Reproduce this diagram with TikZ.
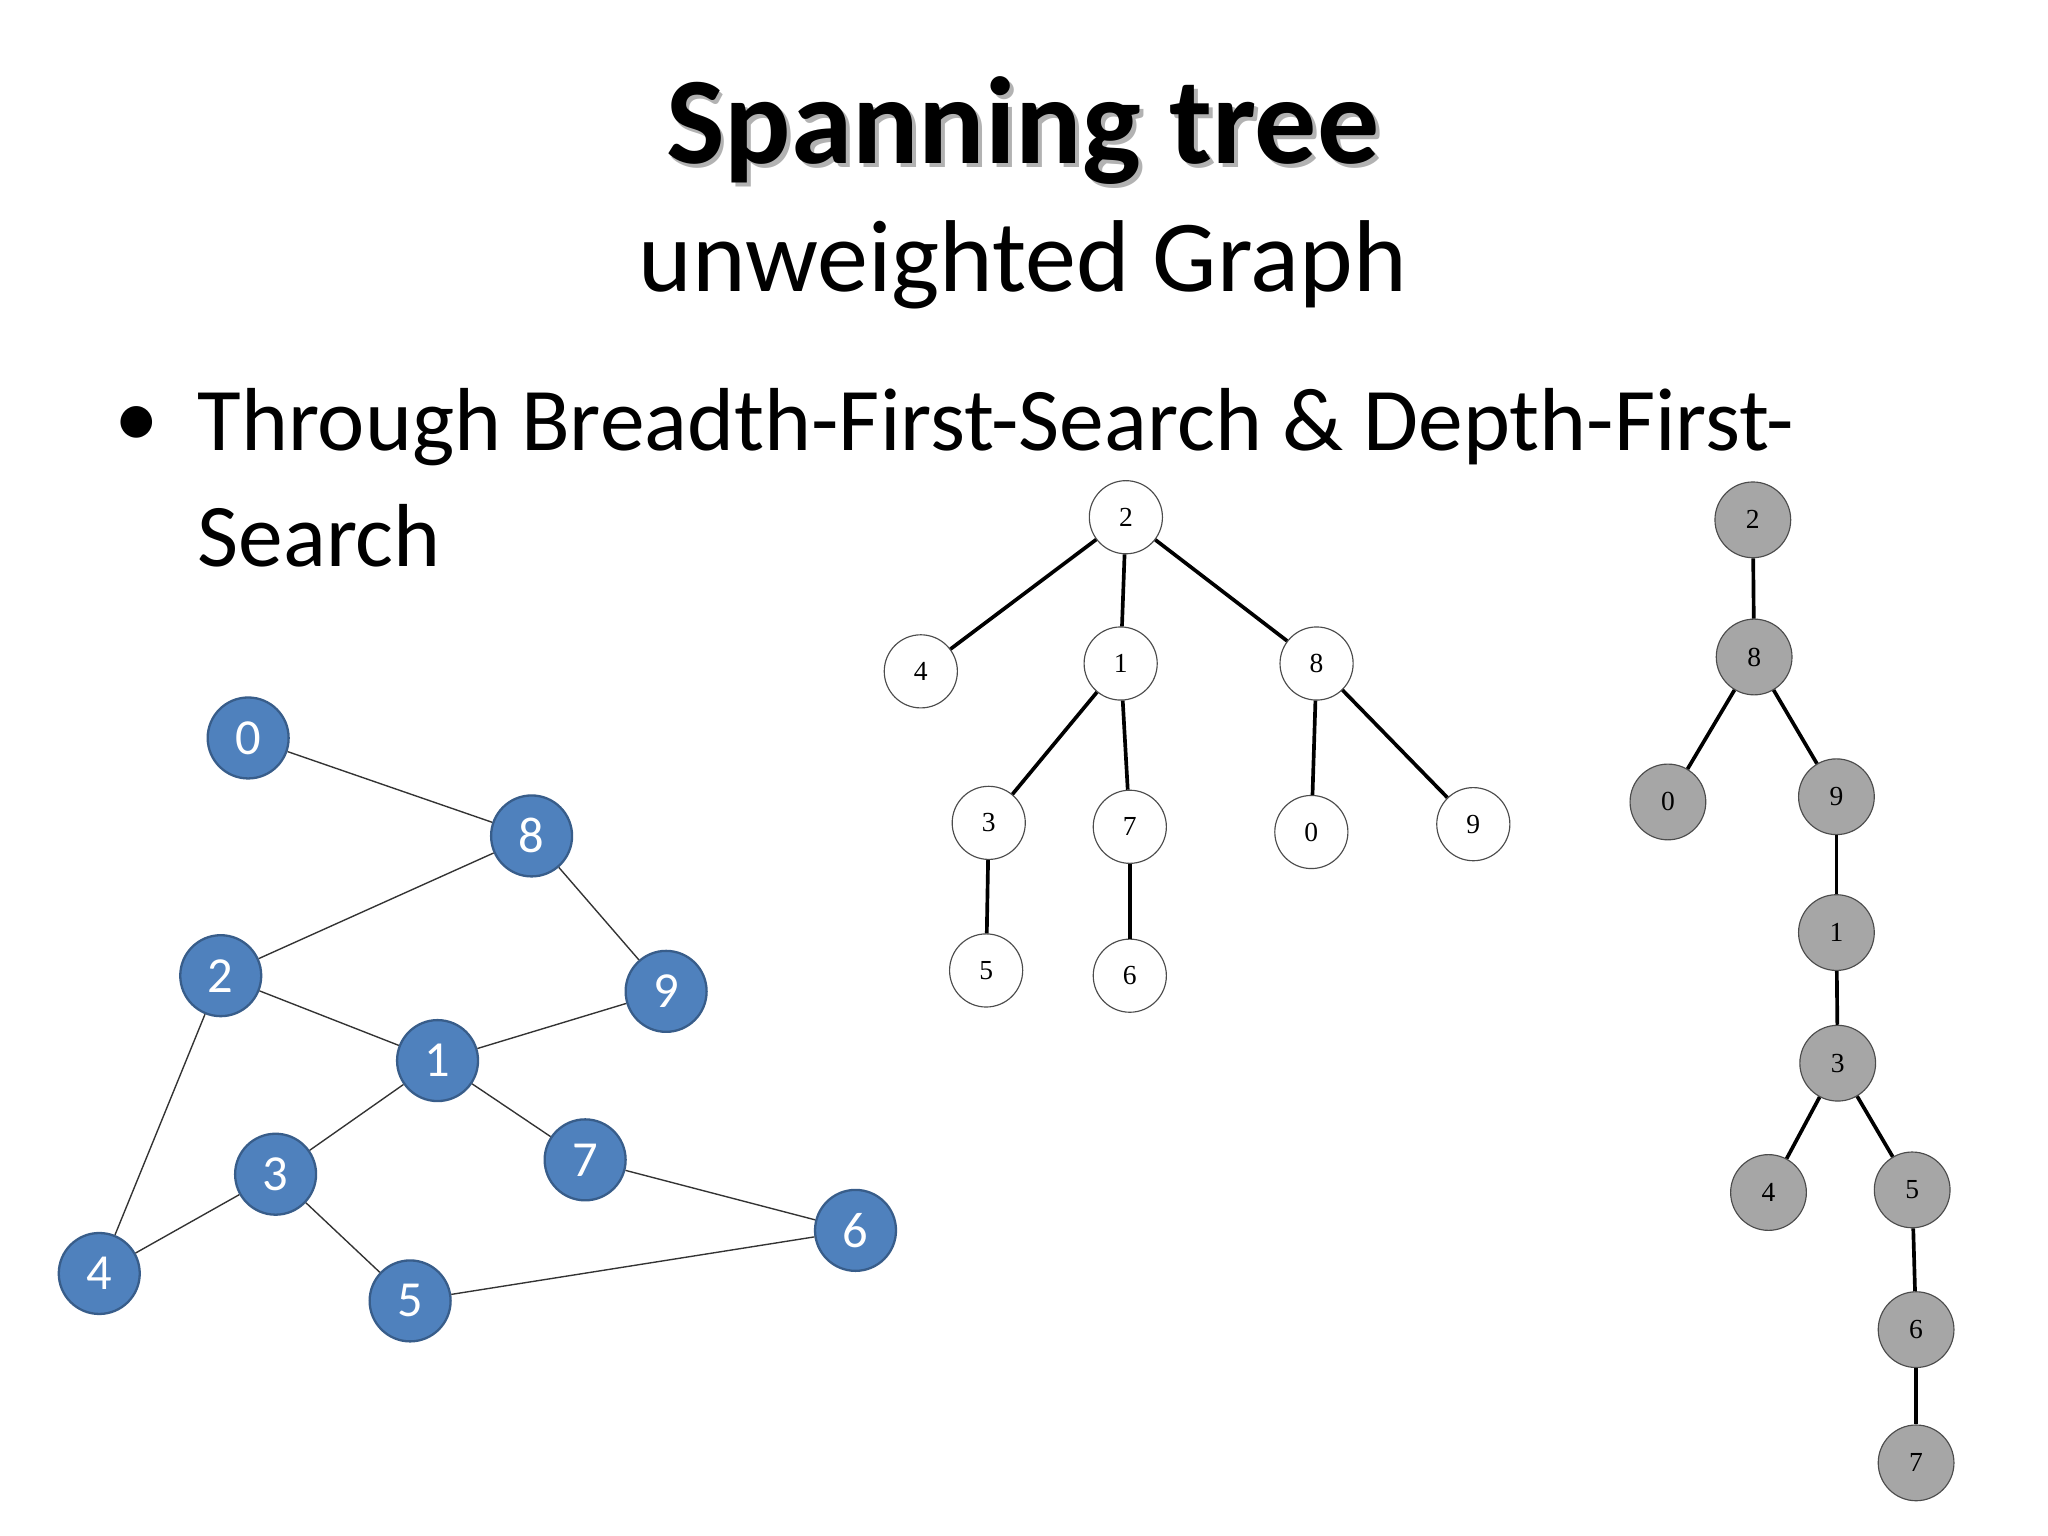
\documentclass[tikz,border=0pt]{standalone}
\usepackage{fontspec}
\setmainfont{Carlito}
\newfontfamily\treefont{Liberation Serif}
\definecolor{bfill}{RGB}{79,129,189}
\definecolor{bdraw}{RGB}{56,93,138}
\definecolor{gfill}{RGB}{166,166,166}
\begin{document}
\begin{tikzpicture}[x=0.02cm,y=-0.02cm,
  bnode/.style={circle,draw=bdraw,fill=bfill,line width=1pt,minimum size=1.24cm,inner sep=0pt,text=white,font=\fontsize{22}{22}\selectfont},
  wnode/.style={circle,draw=black!70,fill=white,line width=0.5pt,minimum size=1.12cm,inner sep=0pt,font=\treefont\fontsize{12}{12}\selectfont},
  gnode/.style={circle,draw=black!70,fill=gfill,line width=0.5pt,minimum size=1.16cm,inner sep=0pt,font=\treefont\fontsize{12}{12}\selectfont},
  bedge/.style={line width=0.6pt,black!80},
  tedge/.style={line width=1.6pt,black}]
\useasboundingbox (0,0) rectangle (1568,1176);
\fill[white] (0,0) rectangle (1568,1176);
\node[font=\bfseries\fontsize{54}{54}\selectfont,text=black!30] at (786,103) {Spanning tree};
\node[font=\bfseries\fontsize{54}{54}\selectfont] (title) at (783,100) {Spanning tree};
\node[font=\fontsize{44.5}{44.5}\selectfont] (sub) at (783,203) {unweighted Graph};
\node[font=\fontsize{39}{39}\selectfont] (bul) at (105,327) {•};
\node[anchor=west,font=\fontsize{39}{39}\selectfont] (l1) at (145,327) {Through Breadth-First-Search \& Depth-First-};
\node[anchor=west,font=\fontsize{39}{39}\selectfont] (l2) at (145,410) {Search};
% left graph
\foreach \n/\x/\y in {0/190/565,8/407/640,2/169/747,9/510/759,1/335/812,7/448/888,3/211/899,6/655/942,4/76/975,5/314/996}
  \node[bnode] (a\n) at (\x,\y) {\n};
\foreach \u/\v in {0/8,8/2,8/9,2/1,9/1,2/4,1/3,1/7,3/4,3/5,7/6,5/6}
  \draw[bedge] (a\u) -- (a\v);
% BFS tree
\foreach \n/\x/\y in {2/862/396,4/705/514,1/858/508,8/1008/508,3/757/630,7/865/633,0/1004/637,9/1128/631,5/755/743,6/865/747}
  \node[wnode] (b\n) at (\x,\y) {\n};
\foreach \u/\v in {2/4,2/1,2/8,1/3,1/7,8/0,8/9,3/5,7/6}
  \draw[tedge] (b\u) -- (b\v);
% DFS tree
\foreach \n/\x/\y in {2/1342/398,8/1343/503,0/1277/614,9/1406/610,1/1406/714,3/1407/814,4/1354/913,5/1464/911,6/1467/1018,7/1467/1120}
  \node[gnode] (c\n) at (\x,\y) {\n};
\foreach \u/\v in {2/8,8/0,8/9,9/1,1/3,3/4,3/5,5/6,6/7}
  \draw[tedge] (c\u) -- (c\v);
\end{tikzpicture}
\end{document}
